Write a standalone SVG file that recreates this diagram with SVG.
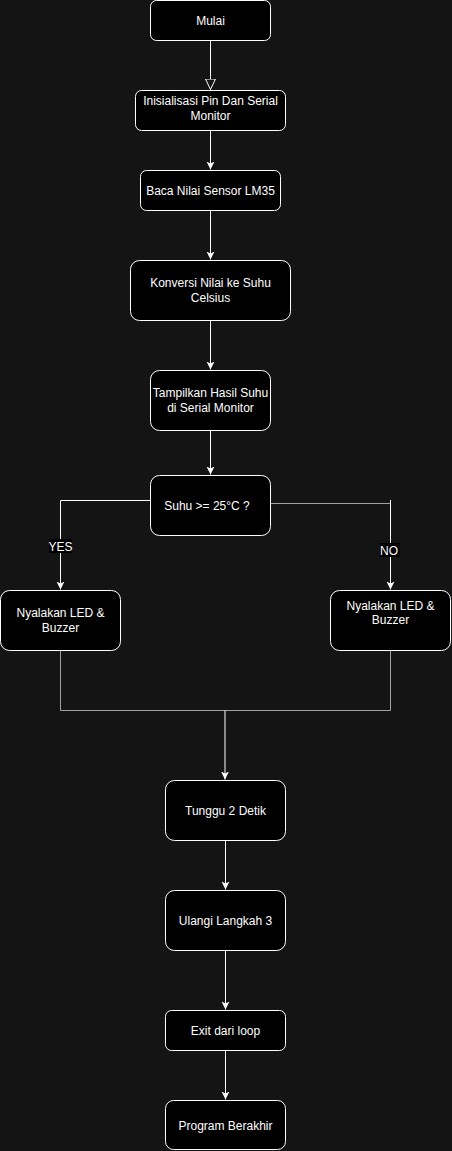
<svg xmlns="http://www.w3.org/2000/svg" width="452" height="1151" viewBox="0 0 452 1151">
<style>
.n rect{fill:#000;stroke:#fff;stroke-width:1}
.n text,.lbl{font-family:"Liberation Sans",Arial,sans-serif;font-size:12px;fill:#fff;text-anchor:middle}
.c{fill:none;stroke:#fff;stroke-width:1}
.g{fill:none;stroke:#a0a0a0;stroke-width:1}
</style>
<defs>
<marker id="a" markerWidth="10" markerHeight="10" refX="8" refY="4" orient="auto" markerUnits="userSpaceOnUse"><path d="M0,0 L8,4 L0,8 L2,4 Z" fill="#fff"/></marker>
<marker id="o" markerWidth="14" markerHeight="12" refX="11" refY="5.5" orient="auto" markerUnits="userSpaceOnUse"><path d="M0.5,0.5 L11,5.5 L0.5,10.5 Z" fill="#141414" stroke="#fff" stroke-width="1"/></marker>
</defs>
<rect x="0" y="0" width="452" height="1151" fill="#141414"/>
<g id="connectors">
<path class="c" d="M210.5,40 V89.5" marker-end="url(#o)"/>
<path class="c" d="M210.5,130 V169.5" marker-end="url(#a)"/>
<path class="c" d="M210.5,210 V259.5" marker-end="url(#a)"/>
<path class="c" d="M210.5,320 V369.5" marker-end="url(#a)"/>
<path class="c" d="M210.5,430 V474.5" marker-end="url(#a)"/>
<path class="c" d="M150,500.5 H60.5 V589.5" marker-end="url(#a)"/>
<path class="g" d="M270,503.5 H390.5"/>
<path class="c" d="M390.5,500 V589.5" marker-end="url(#a)"/>
<path class="g" d="M60.5,650 V710.5 H390.5 V650"/>
<path class="c" d="M225,710.5 V779.5" marker-end="url(#a)"/>
<path class="c" d="M225.5,840 V889.5" marker-end="url(#a)"/>
<path class="c" d="M225.5,950 V1009.5" marker-end="url(#a)"/>
<path class="c" d="M225.5,1050 V1099.5" marker-end="url(#a)"/>
<rect x="49" y="539" width="23" height="14" fill="#000"/>
<text class="lbl" x="60.5" y="550.5">YES</text>
<rect x="380" y="543" width="20" height="14" fill="#000"/>
<text class="lbl" x="389" y="554.5">NO</text>
</g>
<g id="mulai" class="n"><rect x="150.5" y="0.5" width="120" height="40" rx="6"/><text x="210.5" y="24.5">Mulai</text></g>
<g id="init" class="n"><rect x="135.5" y="90.5" width="150" height="40" rx="6"/><text x="210.5" y="105">Inisialisasi Pin Dan Serial</text><text x="210.5" y="120">Monitor</text></g>
<g id="baca" class="n"><rect x="140.5" y="170.5" width="140" height="40" rx="6"/><text x="210.5" y="194.5">Baca Nilai Sensor LM35</text></g>
<g id="konversi" class="n"><rect x="130.5" y="260.5" width="160" height="60" rx="9"/><text x="210.5" y="287">Konversi Nilai ke Suhu</text><text x="210.5" y="302">Celsius</text></g>
<g id="tampilkan" class="n"><rect x="150.5" y="370.5" width="120" height="60" rx="9"/><text x="210.5" y="397">Tampilkan Hasil Suhu</text><text x="210.5" y="412">di Serial Monitor</text></g>
<g id="decision" class="n"><rect x="150.5" y="475.5" width="120" height="60" rx="9"/><text x="207" y="509.5">Suhu &gt;= 25°C ?</text></g>
<g id="yes" class="n"><rect x="0.5" y="590.5" width="120" height="60" rx="9"/><text x="60.5" y="617">Nyalakan LED &amp;</text><text x="60.5" y="632">Buzzer</text></g>
<g id="no" class="n"><rect x="330.5" y="590.5" width="120" height="60" rx="9"/><text x="390.5" y="610">Nyalakan LED &amp;</text><text x="390.5" y="624">Buzzer</text></g>
<g id="tunggu" class="n"><rect x="165.5" y="780.5" width="120" height="60" rx="9"/><text x="225.5" y="814.5">Tunggu 2 Detik</text></g>
<g id="ulangi" class="n"><rect x="165.5" y="890.5" width="120" height="60" rx="9"/><text x="225.5" y="924.5">Ulangi Langkah 3</text></g>
<g id="exit" class="n"><rect x="165.5" y="1010.5" width="120" height="40" rx="6"/><text x="225.5" y="1034.5">Exit dari loop</text></g>
<g id="end" class="n"><rect x="165.5" y="1100.5" width="120" height="49" rx="8"/><text x="225.5" y="1129.5">Program Berakhir</text></g>
</svg>
